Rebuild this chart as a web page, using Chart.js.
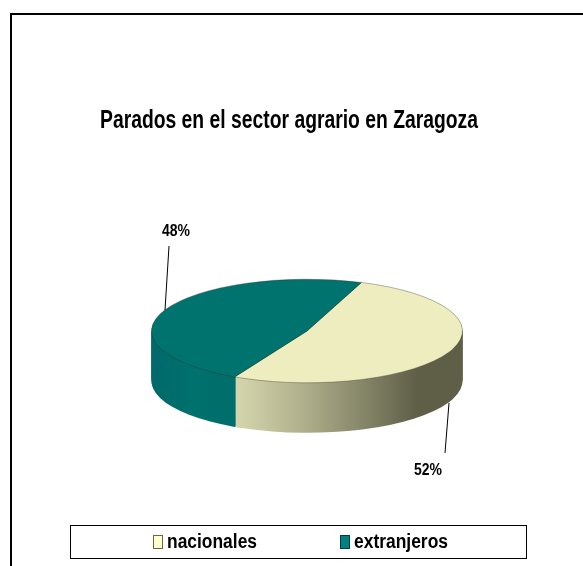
<!DOCTYPE html>
<html>
<head>
<meta charset="utf-8">
<style>
  html, body { margin: 0; padding: 0; background: #fff; overflow: hidden; }
  #frame { position: absolute; left: 10px; top: 13px; width: 573px; height: 553px; box-sizing: border-box; border-top: 2px solid #000; border-left: 2px solid #000; }
  #ctx { position: absolute; left: 0; top: 0; }
</style>
</head>
<body>
<div id="frame"></div>
<canvas id="ctx" width="583" height="566"></canvas>
<script src="https://cdn.jsdelivr.net/npm/chart.js@4"></script>
<script>
const categories = ["nacionales", "extranjeros"];
const values = [52, 48];
const topColors = ["#EDEDBF", "#00736F"];
const legendColors = ["#FFFFCC", "#008080"];
const legendBorders = ["#66664D", "#003D3D"];
const chartTitle = "Parados en el sector agrario en Zaragoza";

const fontName = "'Liberation Sans', Arial, sans-serif";
const squash = 52 / 156; // ellipse height / width of the pie top
const depth = 50;

const ctx = document.getElementById("ctx");

const pie3d = {
  id: "pie3d",
  afterLayout(chart) {
    // title is off centre and squeezed by its max width (left to right)
    const title = chart.titleBlock;
    title.left = 100;
    title.right = 478;
  },
  beforeDatasetsDraw(chart) {
    const c = chart.ctx;
    const arcs = chart.getDatasetMeta(0).data;
    const cy = arcs[0].y;
    const r = arcs[0].outerRadius;
    const cx = arcs[0].x;

    const sideNac = c.createLinearGradient(cx - 72, 0, cx + 110, 0);
    sideNac.addColorStop(0, "#D6D6AE");
    sideNac.addColorStop(0.4, "#ADAD8A");
    sideNac.addColorStop(1, "#5F5F48");
    const sideExt = c.createLinearGradient(cx - r, 0, cx - 72, 0);
    sideExt.addColorStop(0, "#00696A");
    sideExt.addColorStop(0.5, "#00716D");
    sideExt.addColorStop(1, "#006E6A");
    const sides = [sideNac, sideExt];

    c.save();
    c.translate(0, cy);
    c.scale(1, squash);
    c.translate(0, -cy);

    for (let d = depth; d >= 1; d--) {
      c.save();
      c.translate(0, d / squash);
      arcs.forEach((arc, i) => {
        const keep = arc.options;
        arc.options = Object.assign({}, keep, { backgroundColor: sides[i], borderWidth: 0 });
        arc.draw(c);
        arc.options = keep;
      });
      c.restore();
    }
  },
  afterDatasetsDraw(chart) {
    const c = chart.ctx;
    c.restore();

    // data labels and leader lines
    const total = values.reduce((a, b) => a + b, 0);
    const labelPos = [
      { tx: 428, ty: 471, x1: 449, y1: 403, x2: 445, y2: 453 },
      { tx: 176, ty: 232, x1: 169, y1: 246, x2: 165, y2: 310 },
    ];
    c.save();
    c.strokeStyle = "#000";
    c.lineWidth = 1;
    c.fillStyle = "#000";
    c.font = "bold 16px " + fontName;
    c.textAlign = "center";
    c.textBaseline = "middle";
    values.forEach((v, i) => {
      const p = labelPos[i];
      c.beginPath();
      c.moveTo(p.x1, p.y1);
      c.lineTo(p.x2, p.y2);
      c.stroke();
      c.fillText(Math.round((v / total) * 100) + "%", p.tx, p.ty, 28);
    });
    c.restore();

    // legend, drawn here because the library's one can't squeeze its text
    const legendPos = [
      { box: 153, text: 167, w: 90 },
      { box: 340, text: 354, w: 94 },
    ];
    c.save();
    c.strokeStyle = "#000";
    c.lineWidth = 1;
    c.strokeRect(70.5, 525.5, 456, 33);
    c.font = "bold 20px " + fontName;
    c.textAlign = "left";
    c.textBaseline = "middle";
    categories.forEach((name, i) => {
      const p = legendPos[i];
      c.fillStyle = legendColors[i];
      c.strokeStyle = legendBorders[i];
      c.fillRect(p.box + 0.5, 535.5, 9, 13);
      c.strokeRect(p.box + 0.5, 535.5, 9, 13);
      c.fillStyle = "#000";
      c.fillText(name, p.text, 542, p.w);
    });
    c.restore();
  },
};

new Chart(ctx, {
  type: "pie",
  data: {
    labels: categories,
    datasets: [
      {
        data: values,
        backgroundColor: topColors,
        borderColor: "rgba(50, 50, 35, 0.55)",
        borderWidth: 1,
      },
    ],
  },
  plugins: [pie3d],
  options: {
    responsive: false,
    animation: false,
    rotation: 20.5,
    layout: { padding: { left: 151, right: 120, top: 0, bottom: 79 } },
    plugins: {
      tooltip: { enabled: false },
      legend: { display: false },
      title: {
        display: true,
        text: chartTitle,
        color: "#000",
        font: { family: fontName, size: 25, weight: "bold" },
        padding: { top: 106, bottom: 39 },
      },
    },
  },
});
</script>
</body>
</html>
